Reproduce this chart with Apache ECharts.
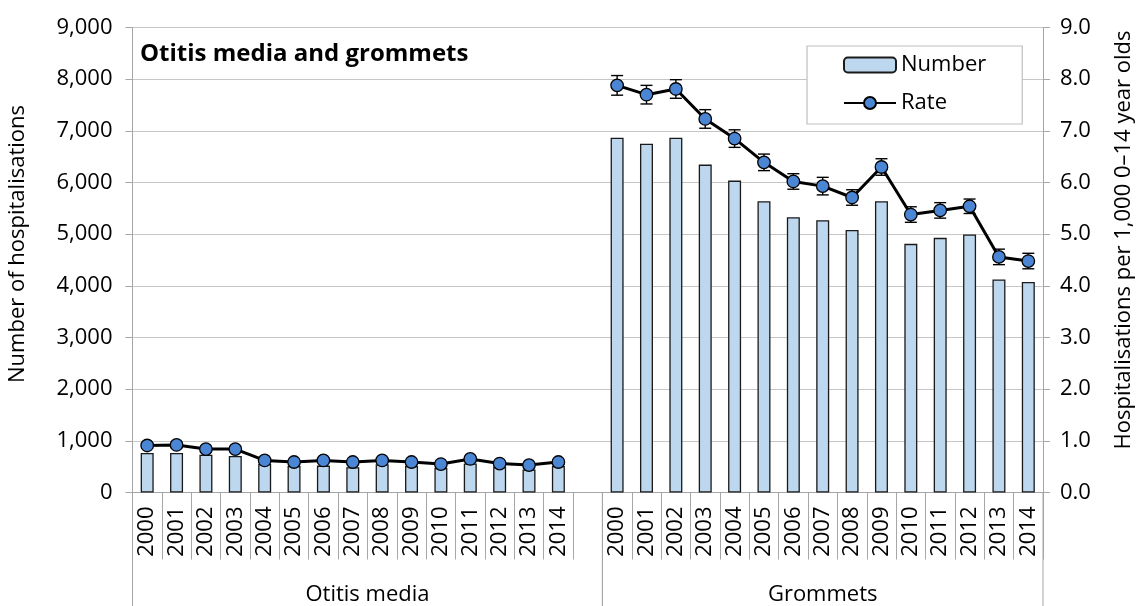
<!DOCTYPE html>
<html>
<head>
<meta charset="utf-8">
<script src="https://cdn.jsdelivr.net/npm/echarts@6/dist/echarts.min.js"></script>
<style>
  html, body { margin: 0; padding: 0; background: #fff; }
  #chart { width: 1140px; height: 606px; }
</style>
</head>
<body>
<div id="chart"></div>
<script>
// Hospitalisations for otitis media and grommets, 2000–2014
const years = ['2000','2001','2002','2003','2004','2005','2006','2007','2008','2009','2010','2011','2012','2013','2014'];
const groupNames = ['Otitis media', 'Grommets'];

const otitisNumber   = [766, 766, 733, 708, 554, 515, 521, 489, 547, 515, 476, 560, 496, 444, 515];
const grommetsNumber = [6867, 6751, 6867, 6346, 6037, 5637, 5328, 5270, 5083, 5637, 4813, 4929, 4994, 4125, 4073];

const otitisRate   = [0.91, 0.92, 0.84, 0.84, 0.62, 0.59, 0.62, 0.59, 0.62, 0.59, 0.55, 0.65, 0.56, 0.53, 0.59];
const grommetsRate = [7.88, 7.70, 7.81, 7.23, 6.85, 6.39, 6.02, 5.93, 5.71, 6.30, 5.38, 5.46, 5.54, 4.56, 4.48];

// 95% confidence interval half-widths for the rates
const otitisRateCI   = [0.05, 0.05, 0.05, 0.05, 0.04, 0.04, 0.04, 0.04, 0.04, 0.04, 0.04, 0.04, 0.04, 0.04, 0.04];
const grommetsRateCI = [0.19, 0.18, 0.18, 0.18, 0.17, 0.16, 0.15, 0.17, 0.15, 0.16, 0.15, 0.15, 0.14, 0.15, 0.15];

const FONT = 'Open Sans';
const FS = 22;

// One empty slot separates the two groups on the category axis
const categories = [...years, '', ...years];
const numberData = [...otitisNumber, null, ...grommetsNumber];
const rateData = [...otitisRate, null, ...grommetsRate];
const ciData = [];
otitisRate.forEach((r, i) => ciData.push([i, r - otitisRateCI[i], r + otitisRateCI[i]]));
grommetsRate.forEach((r, i) => ciData.push([i + years.length + 1, r - grommetsRateCI[i], r + grommetsRateCI[i]]));
// group spans as [first index, last index]
const groupSpans = [[0, years.length], [years.length + 1, 2 * years.length]];

const chart = echarts.init(document.getElementById('chart'), null, { renderer: 'canvas' });

const axisGrey = '#A6A6A6';

chart.setOption({
  animation: false,
  backgroundColor: '#fff',
  textStyle: { fontFamily: FONT },
  title: {
    text: 'Otitis media and grommets',
    left: 135, top: 37,
    textStyle: { fontFamily: FONT, fontSize: 24, fontWeight: 'bold', color: '#000' }
  },
  legend: {
    data: ['Number', 'Rate'],
    orient: 'vertical',
    left: 807, top: 46,
    padding: [4, 36, 6, 36],
    itemGap: 8,
    itemWidth: 52, itemHeight: 15,
    backgroundColor: '#fff',
    borderColor: '#BFBFBF', borderWidth: 1.2,
    textStyle: { fontFamily: FONT, fontSize: FS, color: '#000', lineHeight: 30 }
  },
  grid: { left: 132.5, right: 97, top: 27.5, bottom: 113.5, containLabel: false },
  xAxis: {
    type: 'category',
    data: categories,
    boundaryGap: true,
    axisLine: { lineStyle: { color: axisGrey, width: 1 } },
    axisTick: { show: true, interval: 0, length: 67, lineStyle: { color: axisGrey } },
    axisLabel: { interval: 0, rotate: 90, margin: 14, fontSize: FS, color: '#000', fontFamily: FONT },
    splitLine: { show: false }
  },
  yAxis: [
    {
      type: 'value', min: 0, max: 9000, interval: 1000,
      axisLine: { show: true, lineStyle: { color: axisGrey } },
      axisTick: { show: true, length: 7, lineStyle: { color: axisGrey } },
      axisLabel: { margin: 20, fontSize: FS, color: '#000', fontFamily: FONT,
        formatter: v => v.toLocaleString('en-US') },
      splitLine: { show: true, lineStyle: { color: '#C6C6C6', width: 1 } }
    },
    {
      type: 'value', min: 0, max: 9, interval: 1,
      axisLine: { show: true, lineStyle: { color: axisGrey } },
      axisTick: { show: true, length: 7, lineStyle: { color: axisGrey } },
      axisLabel: { margin: 17, fontSize: FS, color: '#000', fontFamily: FONT,
        formatter: v => v.toFixed(1) },
      splitLine: { show: false }
    }
  ],
  graphic: [
    {
      type: 'text', x: 18, y: 244, rotation: Math.PI / 2,
      style: { text: 'Number of hospitalisations', fontFamily: FONT, fontSize: FS, fill: '#000',
        align: 'center', verticalAlign: 'middle' }
    },
    {
      type: 'text', x: 1124, y: 240, rotation: Math.PI / 2,
      style: { text: 'Hospitalisations per 1,000 0–14 year olds', fontFamily: FONT, fontSize: FS, fill: '#000',
        align: 'center', verticalAlign: 'middle' }
    }
  ],
  series: [
    {
      name: 'Number',
      type: 'bar',
      data: numberData,
      barWidth: 13,
      itemStyle: { color: '#BDD7EE', borderColor: '#1A1A1A', borderWidth: 1.3 },
      z: 2
    },
    {
      // confidence interval whiskers on the rate
      name: 'CI',
      type: 'custom',
      yAxisIndex: 1,
      data: ciData,
      z: 3,
      renderItem: (params, api) => {
        const x = api.value(0);
        const lo = api.coord([x, api.value(1)]);
        const hi = api.coord([x, api.value(2)]);
        const half = 6;
        const style = { stroke: '#000', lineWidth: 1.4 };
        return {
          type: 'group',
          children: [
            { type: 'line', shape: { x1: lo[0], y1: lo[1], x2: hi[0], y2: hi[1] }, style },
            { type: 'line', shape: { x1: lo[0] - half, y1: lo[1], x2: lo[0] + half, y2: lo[1] }, style },
            { type: 'line', shape: { x1: hi[0] - half, y1: hi[1], x2: hi[0] + half, y2: hi[1] }, style }
          ]
        };
      }
    },
    {
      name: 'Rate',
      type: 'line',
      yAxisIndex: 1,
      data: rateData,
      connectNulls: false,
      symbol: 'circle',
      symbolSize: 12.5,
      showAllSymbol: true,
      lineStyle: { color: '#000', width: 3 },
      itemStyle: { color: '#4A86D4', borderColor: '#000', borderWidth: 1.3 },
      z: 4
    },
    {
      // group dividers and group names beneath the year labels
      name: 'Groups',
      type: 'custom',
      data: groupSpans,
      z: 1,
      silent: true,
      renderItem: (params, api) => {
        const first = api.value(0), last = api.value(1);
        const w = api.size([1, 0])[0];
        const a = api.coord([first, 0]);
        const b = api.coord([last, 0]);
        const x0 = a[0] - w / 2, x1 = b[0] + w / 2, y0 = a[1];
        const style = { stroke: axisGrey, lineWidth: 1 };
        return {
          type: 'group',
          children: [
            { type: 'line', shape: { x1: x0, y1: y0, x2: x0, y2: y0 + 114 }, style },
            { type: 'line', shape: { x1: x1, y1: y0, x2: x1, y2: y0 + 114 }, style },
            { type: 'text', style: { text: groupNames[params.dataIndex], x: (x0 + x1) / 2, y: y0 + 102,
              align: 'center', verticalAlign: 'middle', fontFamily: FONT, fontSize: FS, fill: '#000' } }
          ]
        };
      }
    }
  ]
});
</script>
</body>
</html>
